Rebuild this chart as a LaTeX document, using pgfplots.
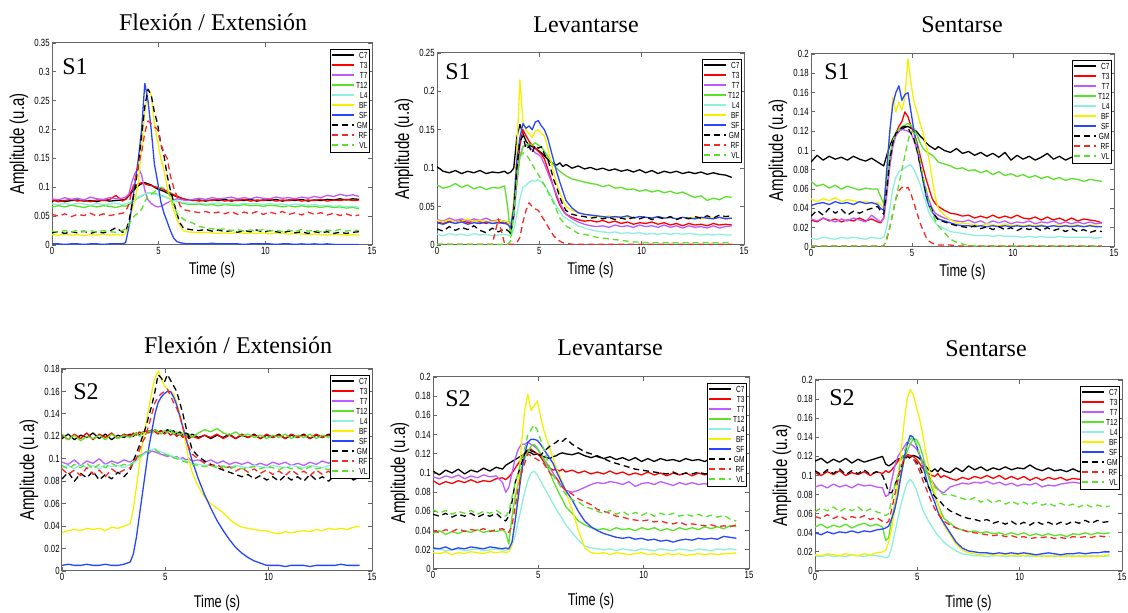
\documentclass[border=0pt]{standalone}
\usepackage{fontspec}
\setmainfont{Liberation Serif}
\newfontfamily\cond[FakeStretch=0.75]{Liberation Sans}
\usepackage{pgfplots}
\usepackage{pgfplotstable}
\pgfplotsset{compat=1.18}

% values in thousandths of u.a.
\pgfplotstableread{
t C7 T3 T7 T12 L4 BF SF GM RF VL
0 76 78 80 66 71 18 2 21 53 24
0.3 78 75 78 68 70 17 2 23 50 22
0.6 75 77 82 66 72 19 1 20 54 25
0.9 77 79 79 69 70 17 2 23 49 22
1.2 78 76 81 67 72 18 2 21 53 26
1.5 76 78 78 65 71 16 1 24 51 23
1.8 77 75 83 68 69 18 2 20 55 25
2.1 75 78 80 66 72 17 2 23 50 22
2.4 78 77 79 68 70 19 1 21 54 25
2.7 76 79 82 67 71 17 2 24 51 23
3.0 77 86 80 65 72 18 2 30 53 22
3.3 78 76 81 68 70 17 2 22 55 25
3.45 79 80 83 67 71 20 4 24 58 28
3.6 85 86 88 70 73 35 30 40 70 35
3.75 92 95 110 74 76 60 70 70 95 45
3.9 98 102 125 78 79 80 110 100 115 52
4.05 103 106 133 82 83 110 150 140 140 55
4.2 106 108 122 85 86 170 200 190 160 62
4.35 108 106 95 88 88 230 280 240 195 75
4.5 106 104 78 90 90 270 250 270 215 85
4.65 104 103 72 90 89 260 200 260 210 88
4.8 100 101 68 89 88 210 140 230 205 92
4.95 97 100 66 88 87 180 110 210 200 98
5.1 95 98 67 86 86 150 75 175 175 100
5.25 93 96 70 84 84 130 55 155 160 98
5.4 90 93 73 82 82 100 40 120 150 92
5.55 88 90 76 80 80 80 25 95 120 85
5.7 86 87 78 78 78 60 12 75 100 70
5.85 84 85 80 76 76 45 6 55 85 55
6.0 82 82 79 74 75 32 4 38 68 50
6.15 80 80 78 72 74 25 3 30 62 45
6.3 79 78 77 71 73 23 2 28 60 42
6.6 77 78 79 70 72 22 2 26 58 38
6.9 78 76 81 71 73 21 2 25 56 32
7.2 76 78 79 69 71 22 2 27 58 30
7.5 78 77 82 70 72 21 3 24 55 28
7.8 77 79 80 68 73 20 2 26 57 27
8.1 79 76 81 70 71 21 2 23 54 28
8.4 76 78 83 69 72 20 2 25 58 25
8.7 78 77 80 68 70 22 2 22 53 27
9.0 77 79 82 70 72 20 1 25 57 24
9.3 79 76 80 68 71 21 2 23 54 26
9.6 76 78 83 69 72 20 2 26 58 24
9.9 78 77 81 67 70 21 2 22 53 27
10.2 77 79 80 69 72 19 2 25 57 24
10.5 79 76 83 68 70 21 1 23 54 26
10.8 76 78 81 66 71 20 2 21 58 23
11.1 78 77 82 68 69 19 2 24 53 26
11.4 77 79 80 66 71 20 1 21 56 23
11.7 79 76 83 68 70 19 2 23 52 27
12.0 76 78 81 66 69 18 1 20 57 24
12.3 78 77 84 67 70 19 2 23 53 26
12.6 77 79 82 65 68 18 1 21 56 23
12.9 79 76 86 67 69 17 2 23 52 26
13.2 78 78 84 65 67 19 1 20 55 24
13.5 80 77 88 66 68 18 1 22 51 27
13.8 78 79 85 64 66 17 1 20 54 24
14.1 80 77 87 65 67 18 1 22 50 26
14.4 79 78 84 63 65 17 1 23 52 25
}\tabA

\pgfplotstableread{
t C7 T3 T7 T12 L4 BF SF GM RF VL
0 102 30 33 78 14 32 29 21 1 1
0.3 96 28 31 74 12 30 27 18 1 1
0.6 94 31 35 76 15 33 30 24 1 1
0.9 97 29 32 80 13 29 28 19 1 1
1.2 93 32 34 75 14 31 30 23 1 1
1.5 96 29 31 78 12 34 27 20 1 1
1.8 94 31 34 73 15 30 29 25 1 1
2.1 97 30 32 76 13 32 28 19 1 1
2.4 93 28 35 72 14 31 30 16 1 1
2.7 95 31 31 75 12 30 28 22 1 1
3.0 94 29 33 74 13 32 29 17 34 1
3.3 96 30 31 77 14 31 28 21 2 1
3.45 93 29 30 50 13 30 27 19 1 1
3.6 95 27 25 10 12 24 22 15 1 5
3.75 100 40 35 40 20 60 50 40 1 40
3.9 140 90 80 90 40 120 110 100 3 80
4.05 157 130 115 115 60 215 140 135 10 115
4.2 145 150 128 128 75 160 158 142 30 120
4.35 135 142 130 130 78 150 152 125 45 118
4.5 130 135 128 132 82 145 155 128 55 112
4.65 128 130 124 130 84 140 150 120 50 105
4.8 126 126 120 133 83 148 160 130 47 98
4.95 123 122 118 130 85 150 162 126 45 92
5.1 120 118 114 127 82 145 155 128 38 85
5.25 116 112 105 122 78 142 150 118 32 78
5.4 112 100 95 116 72 128 140 112 25 70
5.55 108 88 85 110 65 110 125 100 18 62
5.7 106 75 75 104 57 95 110 85 12 55
5.85 104 62 65 100 50 80 95 75 8 45
6.0 107 52 55 96 44 68 82 62 5 35
6.15 102 45 47 93 38 58 70 52 3 30
6.3 105 40 40 90 35 50 58 45 2 25
6.6 100 36 34 86 30 45 48 40 1 20
6.9 103 33 30 84 25 42 42 38 1 15
7.2 99 31 27 82 22 40 40 37 1 14
7.5 101 32 25 80 20 38 39 35 1 12
7.8 98 30 24 79 18 37 38 36 1 10
8.1 100 32 25 76 17 36 37 34 1 9
8.4 97 29 23 78 16 38 36 36 1 8
8.7 99 31 26 74 17 35 37 33 1 7
9.0 96 28 24 75 15 37 36 35 1 6
9.3 98 30 25 72 16 36 38 33 1 5
9.6 95 27 23 73 15 35 35 36 1 4
9.9 98 29 26 70 16 37 37 34 1 4
10.2 94 28 24 72 14 36 36 37 1 3
10.5 97 30 25 69 15 35 35 33 1 3
10.8 93 27 23 71 14 37 37 36 1 3
11.1 96 29 26 68 15 35 35 34 1 3
11.4 94 26 23 70 14 36 36 37 1 3
11.7 96 28 25 67 15 34 34 33 1 3
12.0 93 25 22 69 14 36 36 36 1 3
12.3 95 28 25 65 15 35 35 34 1 3
12.6 93 26 23 62 14 36 34 37 1 3
12.9 95 27 24 64 13 34 36 35 1 3
13.2 92 25 22 58 14 36 35 38 1 3
13.5 94 28 25 61 13 35 34 35 1 3
13.8 92 26 22 59 14 36 36 39 1 3
14.1 91 27 24 63 13 35 34 37 1 3
14.4 88 26 25 62 13 35 35 38 1 3
}\tabB

\pgfplotstableread{
t C7 T3 T7 T12 L4 BF SF GM RF VL
0 88 28 29 68 9 50 43 32 1 1
0.3 95 26 27 63 8 47 45 38 1 1
0.6 90 30 30 65 10 50 46 33 1 1
0.9 94 27 28 61 9 48 44 40 1 1
1.2 91 29 26 64 8 51 47 35 1 1
1.5 93 26 29 60 10 47 45 39 1 1
1.8 90 28 27 63 9 49 46 33 1 1
2.1 94 27 30 61 10 48 44 37 1 1
2.4 91 30 28 59 9 46 47 35 1 1
2.7 89 27 26 61 8 47 45 38 1 1
3.0 92 29 33 60 10 45 46 40 1 1
3.3 88 26 28 60 9 46 44 42 1 1
3.45 86 25 26 52 9 44 40 37 1 1
3.6 84 30 30 45 10 40 38 34 1 1
3.75 95 55 55 70 20 80 80 60 8 10
3.9 105 85 85 95 40 120 120 90 20 20
4.05 112 105 105 110 60 155 148 108 35 35
4.2 118 118 115 118 72 140 160 118 50 50
4.35 120 125 120 122 78 150 167 120 58 65
4.5 122 130 122 125 80 142 152 124 62 80
4.65 124 140 121 126 82 155 158 125 60 95
4.8 125 135 120 128 84 195 160 123 62 110
4.95 123 125 118 126 85 170 140 118 55 120
5.1 122 118 110 122 80 150 120 112 45 118
5.25 119 108 100 116 73 140 105 100 35 105
5.4 115 95 85 108 65 128 85 85 25 90
5.55 112 82 70 102 55 118 68 70 17 72
5.7 108 70 58 99 45 105 52 55 10 60
5.85 105 60 48 97 35 90 42 45 6 45
6.0 103 50 40 95 30 70 36 38 4 35
6.15 101 45 35 92 25 52 32 32 3 28
6.3 104 42 33 88 22 40 29 28 2 22
6.6 100 38 30 86 19 33 27 26 2 15
6.9 98 35 28 84 16 28 25 24 2 8
7.2 102 34 27 81 15 25 23 22 1 5
7.5 97 32 26 82 14 24 22 21 1 3
7.8 99 33 28 79 13 24 22 20 1 2
8.1 95 30 25 80 12 23 21 22 1 1
8.4 98 32 27 77 12 22 22 19 1 1
8.7 94 30 24 79 12 24 21 21 1 1
9.0 97 33 27 75 11 23 22 18 1 1
9.3 93 30 25 78 12 22 21 21 1 1
9.6 98 32 27 74 11 24 22 18 1 1
9.9 90 30 24 76 11 22 21 20 1 1
10.2 95 33 26 73 11 23 22 17 1 1
10.5 91 30 25 75 10 22 21 20 1 1
10.8 94 29 27 72 11 23 22 18 1 1
11.1 90 31 24 74 10 22 21 20 1 1
11.4 93 28 26 71 11 23 22 17 1 1
11.7 97 31 25 73 10 21 21 20 1 1
12.0 91 28 27 70 10 22 22 17 1 1
12.3 94 30 24 72 11 23 21 19 1 1
12.6 90 27 26 69 10 21 22 16 1 1
12.9 93 30 24 71 10 22 21 19 1 1
13.2 91 27 26 70 10 23 22 16 1 1
13.5 94 29 24 68 10 21 21 18 1 1
13.8 90 28 26 70 10 23 22 15 1 1
14.1 92 27 24 69 9 22 21 17 1 1
14.4 89 25 25 68 10 21 21 16 1 1
}\tabC

\pgfplotstableread{
t C7 T3 T7 T12 L4 BF SF GM RF VL
0 118 121 97 122 92 34 5 82 91 94
0.3 122 117 95 117 94 36 6 88 86 91
0.6 117 122 99 121 91 37 5 80 90 95
0.9 121 118 94 116 95 36 5 87 85 92
1.2 119 123 98 120 92 38 6 83 92 96
1.5 123 117 96 118 94 37 5 89 86 91
1.8 118 122 100 121 91 38 5 81 90 95
2.1 122 119 95 117 95 36 6 86 84 92
2.4 117 123 98 122 93 39 5 82 91 96
2.7 121 118 96 118 94 38 5 88 87 93
3.0 119 122 99 121 92 40 6 84 90 95
3.3 122 120 97 119 95 42 8 90 92 94
3.45 120 123 99 121 96 55 15 98 96 97
3.6 123 121 101 123 98 75 30 105 100 100
3.75 121 124 103 120 100 95 50 112 108 102
3.9 124 122 104 124 103 115 70 120 115 104
4.05 122 125 106 122 105 130 90 128 120 106
4.2 125 123 105 125 107 145 110 138 130 107
4.35 123 126 107 123 108 160 125 148 140 108
4.5 126 124 106 126 109 172 140 160 150 108
4.65 124 122 105 124 107 178 150 175 155 106
4.8 125 125 104 122 106 172 155 172 158 105
4.95 123 122 103 125 105 165 158 168 160 104
5.1 126 124 102 123 104 162 160 175 162 103
5.25 124 121 103 126 103 160 160 170 156 102
5.4 125 123 101 122 102 158 155 165 150 101
5.55 122 120 102 124 101 150 148 160 145 100
5.7 124 122 100 121 100 140 138 150 138 99
5.85 121 119 101 123 99 128 128 140 128 98
6.0 123 121 99 120 98 112 118 128 118 97
6.15 120 118 100 122 97 98 108 118 110 96
6.3 122 120 98 119 96 88 98 108 104 95
6.6 119 118 99 123 95 75 82 102 100 94
6.9 121 121 97 126 94 66 68 98 96 93
7.2 118 119 99 124 95 60 56 95 94 94
7.5 121 122 96 127 93 56 45 92 95 92
7.8 119 118 98 123 94 52 36 90 91 93
8.1 122 121 95 121 92 46 28 88 93 91
8.4 118 118 97 124 94 42 21 86 89 93
8.7 121 122 95 120 93 39 16 84 92 91
9.0 119 119 97 122 92 38 12 86 88 92
9.3 122 121 94 119 94 37 9 82 91 93
9.6 118 118 96 121 93 36 7 85 87 91
9.9 121 122 94 118 92 36 5 81 90 93
10.2 119 119 97 121 94 34 5 84 86 92
10.5 122 121 95 119 93 33 5 80 89 90
10.8 118 118 97 122 92 35 4 85 85 93
11.1 121 122 94 118 94 34 5 81 90 91
11.4 119 119 96 121 93 35 5 84 86 92
11.7 122 121 94 119 92 36 5 80 89 90
12.0 118 118 97 122 94 35 4 86 85 93
12.3 121 122 95 118 93 37 5 81 90 91
12.6 119 119 98 121 92 36 5 84 86 92
12.9 122 121 96 119 94 38 5 80 89 90
13.2 118 118 99 122 93 37 5 85 85 93
13.5 121 122 97 118 92 38 6 82 91 91
13.8 119 119 100 121 94 37 5 86 86 92
14.1 122 121 98 119 93 39 5 81 89 90
14.4 120 118 99 118 92 40 5 84 87 92
}\tabD

\pgfplotstableread{
t C7 T3 T7 T12 L4 BF SF GM RF VL
0 102 92 96 37 20 17 22 57 40 62
0.3 98 88 94 40 21 16 21 55 38 58
0.6 103 91 97 36 19 18 23 58 41 61
0.9 100 89 95 39 20 15 20 54 39 57
1.2 104 92 98 37 21 17 22 57 42 60
1.5 99 90 94 40 19 16 21 55 39 58
1.8 103 93 97 38 20 18 23 58 41 61
2.1 101 90 95 41 21 17 22 54 40 57
2.4 105 92 98 38 19 16 21 57 42 60
2.7 102 91 96 40 20 18 23 55 39 58
3.0 106 94 97 39 21 17 22 58 41 61
3.3 104 95 90 41 20 18 21 52 42 57
3.45 108 93 80 38 19 17 22 50 40 55
3.6 110 96 85 26 21 18 21 55 38 60
3.75 112 100 100 55 25 25 28 70 45 75
3.9 114 105 115 75 35 50 50 90 65 90
4.05 116 110 125 90 50 90 75 100 85 100
4.2 118 115 130 105 65 130 100 110 100 115
4.35 120 120 130 115 80 165 120 120 110 125
4.5 122 124 132 122 92 182 132 125 120 140
4.65 121 125 130 128 100 165 135 123 118 145
4.8 119 122 128 130 102 170 135 122 116 150
4.95 120 120 125 126 98 175 134 120 114 145
5.1 118 117 120 120 92 160 130 118 112 135
5.25 117 112 115 115 86 145 125 122 110 125
5.4 116 108 110 108 80 135 120 125 105 115
5.55 115 105 105 100 74 125 115 128 100 105
5.7 117 103 100 92 68 115 110 130 97 98
5.85 118 104 95 85 62 105 102 132 95 92
6.0 120 102 90 78 57 98 95 135 90 88
6.15 121 104 85 72 52 90 88 133 85 82
6.3 120 101 82 65 46 80 82 136 82 78
6.6 119 103 80 58 38 62 72 130 78 72
6.9 121 100 82 50 30 40 60 126 73 70
7.2 118 102 85 46 24 22 50 122 70 65
7.5 116 99 88 43 22 17 44 120 67 63
7.8 118 101 90 41 21 16 40 117 62 60
8.1 115 99 89 42 20 17 37 115 60 58
8.4 117 102 91 40 21 15 35 112 58 61
8.7 114 99 90 43 19 17 33 110 55 57
9.0 116 101 88 41 21 16 32 108 54 60
9.3 113 98 91 42 20 15 33 106 52 56
9.6 116 100 86 40 19 16 31 104 51 59
9.9 112 98 89 43 21 17 32 103 50 56
10.2 115 101 90 41 20 15 30 102 51 59
10.5 112 98 88 43 19 16 31 101 49 55
10.8 115 100 91 40 21 14 29 100 50 58
11.1 113 97 89 42 20 16 30 99 48 56
11.4 114 100 87 40 19 15 28 101 47 58
11.7 112 98 90 43 21 16 30 98 49 55
12.0 115 100 88 41 20 14 31 100 46 57
12.3 113 97 90 43 19 15 30 99 47 55
12.6 114 100 88 41 21 16 32 101 46 57
12.9 112 98 89 44 20 15 31 99 45 54
13.2 115 101 87 42 19 16 32 100 46 56
13.5 113 98 90 44 21 15 31 99 44 54
13.8 114 100 88 42 20 16 34 101 45 56
14.1 112 99 91 45 21 16 33 100 44 52
14.4 113 100 95 44 20 17 32 100 46 50
}\tabE

\pgfplotstableread{
t C7 T3 T7 T12 L4 BF SF GM RF VL
0 115 103 88 46 16 17 40 105 57 62
0.3 118 100 90 49 15 16 38 101 55 66
0.6 113 104 87 45 17 18 41 106 59 63
0.9 117 101 91 48 15 17 39 102 55 67
1.2 114 105 88 46 16 16 41 107 58 62
1.5 118 100 90 49 15 18 40 101 54 66
1.8 113 103 87 45 17 17 42 105 57 63
2.1 117 101 91 48 16 16 40 102 55 67
2.4 114 104 89 50 15 18 42 106 58 62
2.7 116 100 90 47 17 17 41 101 54 65
3.0 118 104 88 49 16 19 43 104 56 62
3.3 120 102 87 46 15 20 44 100 52 60
3.45 112 105 78 32 14 22 45 92 50 58
3.6 110 103 80 35 15 30 47 82 52 60
3.75 112 106 95 55 25 45 55 82 65 75
3.9 115 110 110 70 40 65 65 90 80 90
4.05 117 115 120 85 55 95 80 98 95 100
4.2 118 118 125 100 70 125 100 108 108 115
4.35 120 121 130 115 82 155 118 116 118 125
4.5 121 122 135 125 92 180 132 120 121 132
4.65 119 121 133 133 96 190 142 118 120 138
4.8 121 120 131 138 92 185 140 117 118 140
4.95 120 117 128 138 85 172 132 114 112 133
5.1 118 113 122 132 75 160 122 110 105 122
5.25 115 108 115 122 65 145 112 102 96 112
5.4 110 104 108 110 58 125 100 95 88 105
5.55 106 102 100 98 52 110 88 88 80 98
5.7 104 100 95 88 47 95 80 82 72 92
5.85 107 99 90 78 42 82 72 78 65 88
6.0 104 102 86 70 37 70 62 75 60 85
6.15 108 98 83 62 34 58 55 72 56 82
6.3 105 100 82 55 30 48 50 68 52 80
6.6 103 97 88 50 25 38 40 63 48 80
6.9 108 95 90 45 21 28 30 60 45 78
7.2 104 98 92 43 18 22 24 57 43 76
7.5 110 96 91 41 17 19 21 55 41 74
7.8 106 99 93 42 16 18 20 54 40 77
8.1 109 97 92 40 16 17 19 52 39 72
8.4 105 100 94 41 15 18 19 54 38 75
8.7 108 97 91 39 16 17 18 50 37 71
9.0 106 100 93 40 16 16 19 52 38 74
9.3 109 96 90 38 15 17 18 49 36 70
9.6 106 99 92 40 16 16 19 52 37 73
9.9 108 96 89 38 15 17 18 48 35 70
10.2 107 99 91 40 16 16 19 51 36 72
10.5 111 95 90 37 15 17 18 48 34 69
10.8 107 98 92 39 16 15 17 52 35 72
11.1 105 95 88 37 15 16 18 49 35 69
11.4 108 98 90 39 16 15 19 51 36 71
11.7 105 96 89 37 15 16 18 48 34 68
12.0 106 98 91 38 16 15 17 51 35 71
12.3 104 95 92 36 15 16 18 49 34 68
12.6 107 97 93 39 16 15 18 52 36 70
12.9 104 96 92 38 15 16 19 50 35 67
13.2 106 98 93 40 16 15 18 53 36 70
13.5 104 95 92 38 15 16 19 50 35 67
13.8 106 97 93 40 16 15 19 53 37 69
14.1 104 96 92 39 15 16 20 51 36 67
14.4 105 97 93 40 16 17 20 52 36 68
}\tabF

\definecolor{cT7}{RGB}{190,90,255}
\definecolor{cT12}{RGB}{90,225,40}
\definecolor{cL4}{RGB}{140,240,220}
\definecolor{cBF}{RGB}{245,240,0}
\definecolor{cSF}{RGB}{40,70,255}
\definecolor{cRF}{RGB}{245,40,40}

\tikzset{
  ln/.style={line width=0.65pt, line join=round},
  dsh/.style={ln, dash pattern=on 3pt off 2pt},
}

\newcommand\allseries[1]{%
  \addplot[ln, black] table[x=t,y=C7]{#1};
  \addplot[ln, red] table[x=t,y=T3]{#1};
  \addplot[ln, cT7] table[x=t,y=T7]{#1};
  \addplot[ln, cT12] table[x=t,y=T12]{#1};
  \addplot[ln, cL4] table[x=t,y=L4]{#1};
  \addplot[ln, cBF] table[x=t,y=BF]{#1};
  \addplot[ln, cSF] table[x=t,y=SF]{#1};
  \addplot[dsh, black] table[x=t,y=GM]{#1};
  \addplot[dsh, cRF] table[x=t,y=RF]{#1};
  \addplot[dsh, cT12] table[x=t,y=VL]{#1};
  \legend{C7,T3,T7,T12,L4,BF,SF,GM,RF,VL}
}

\pgfplotsset{
  emg/.style={
    scale only axis, anchor=south west,
    xmin=0, xmax=15, ymin=0,
    xtick={0,5,10,15},
    tick align=inside, tick pos=both, ticklabel pos=left,
    major tick length=2pt,
    axis line style={black!60, line width=0.5pt},
    every tick/.style={black!60, line width=0.4pt},
    tick label style={font=\cond\fontsize{5.2}{5.5}\selectfont, inner sep=1pt},
    /pgf/number format/assume math mode=true,
    xlabel={Time (s)}, ylabel={Amplitude (u.a)},
    every axis x label/.style={at={(axis description cs:0.5,0)}, anchor=center,
      yshift=-12.5pt, font=\cond\fontsize{8.5}{9}\selectfont},
    every axis y label/.style={at={([xshift=-16.5pt]axis description cs:0,0.5)},
      rotate=90, anchor=center, font=\cond\fontsize{10}{10}\selectfont},
    legend style={at={([xshift=-1pt,yshift=-3pt]rel axis cs:1,1)}, anchor=north east,
      draw=black, line width=0.4pt, inner sep=0.7pt,
      font=\cond\fontsize{4.4}{4.4}\selectfont,
      nodes={inner sep=0.35pt, text height=3.5pt, text depth=0.8pt}},
    legend cell align=right,
    legend image code/.code={\draw[##1, line width=1pt] (0pt,0.5pt) -- (11pt,0.5pt);},
  }
}

\begin{document}
\begin{tikzpicture}
\path[use as bounding box] (0,0) rectangle (564pt,306.5pt);

\begin{axis}[emg, at={(26pt,184pt)}, width=160pt, height=101pt,
  ymax=350, ytick={0,50,...,350},
  yticklabels={0,0.05,0.1,0.15,0.2,0.25,0.3,0.35}]
\allseries{\tabA}
\end{axis}

\begin{axis}[emg, at={(218.5pt,184pt)}, width=153.5pt, height=96pt,
  ymax=250, ytick={0,50,...,250},
  yticklabels={0,0.05,0.1,0.15,0.2,0.25}]
\allseries{\tabB}
\end{axis}

\begin{axis}[emg, at={(405.5pt,183pt)}, width=151.5pt, height=96.5pt,
  ymax=200, ytick={0,20,...,200},
  yticklabels={0,0.02,0.04,0.06,0.08,0.1,0.12,0.14,0.16,0.18,0.2}]
\allseries{\tabC}
\end{axis}

\begin{axis}[emg, at={(31pt,21pt)}, width=155pt, height=101pt,
  ymax=180, ytick={0,20,...,180},
  yticklabels={0,0.02,0.04,0.06,0.08,0.1,0.12,0.14,0.16,0.18},
  xlabel style={yshift=-3.5pt}]
\allseries{\tabD}
\end{axis}

\begin{axis}[emg, at={(216.5pt,22pt)}, width=158pt, height=96pt,
  ymax=200, ytick={0,20,...,200},
  yticklabels={0,0.02,0.04,0.06,0.08,0.1,0.12,0.14,0.16,0.18,0.2},
  xlabel style={yshift=-3.5pt}]
\allseries{\tabE}
\end{axis}

\begin{axis}[emg, at={(407.5pt,21pt)}, width=153.5pt, height=95.5pt,
  ymax=200, ytick={0,20,...,200},
  yticklabels={0,0.02,0.04,0.06,0.08,0.1,0.12,0.14,0.16,0.18,0.2},
  xlabel style={yshift=-3.5pt}]
\allseries{\tabF}
\end{axis}

\begin{scope}[every node/.style={font=\fontsize{12}{12}\selectfont}]
\node at (106.5pt,295.5pt) {Flexión / Extensión};
\node at (293pt,294pt) {Levantarse};
\node at (481pt,294pt) {Sentarse};
\node at (119pt,134pt) {Flexión / Extensión};
\node at (305pt,132.5pt) {Levantarse};
\node at (493pt,132pt) {Sentarse};
\node at (37.5pt,273pt) {S1};
\node at (229pt,270.5pt) {S1};
\node at (418.5pt,270.5pt) {S1};
\node at (43pt,110.5pt) {S2};
\node at (229pt,107pt) {S2};
\node at (421pt,107.5pt) {S2};
\end{scope}
\end{tikzpicture}
\end{document}
